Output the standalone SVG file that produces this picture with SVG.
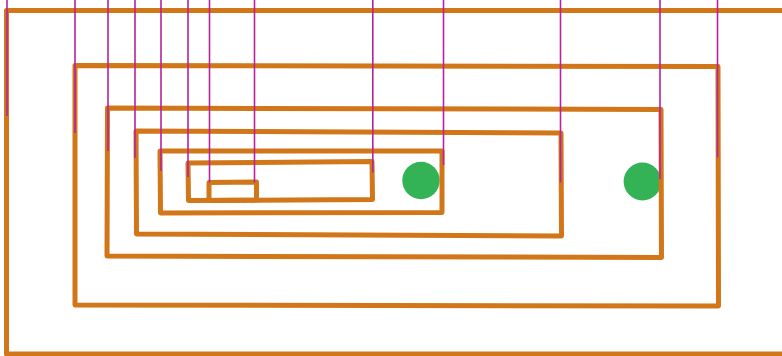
<svg xmlns="http://www.w3.org/2000/svg" width="782" height="356" viewBox="0 0 782 356">
<style>
.box{fill:none;stroke:#D2761A;stroke-width:5;stroke-linejoin:round}
.dot{fill:#34B356}
.wire{stroke:#B8229A;stroke-width:1.6;fill:none}
</style>
<rect width="782" height="356" fill="#ffffff"/>
<g id="circle1"><circle class="dot" cx="421" cy="180.5" r="18.7"/></g>
<g id="circle2"><circle class="dot" cx="642.5" cy="181.5" r="18.9"/></g>
<g id="box1"><path class="box" d="M6.5,354 L6.5,10.5 L790,10.5 L790,354 Z"/></g>
<g id="box2"><path class="box" d="M75,65.5 L718,66.5 L718.5,306 L75,305 Z"/></g>
<g id="box3"><path class="box" d="M107.5,108 L661,109.5 L661.5,257.5 L107,256 Z"/></g>
<g id="box4"><path class="box" d="M136,131 L561,133 L561.5,236 L136.5,234 Z"/></g>
<g id="box5"><path class="box" d="M160,151 L442,151 L442,212.5 L160.5,213 Z"/></g>
<g id="box6"><path class="box" d="M188,163 L372,161.5 L372.5,199.5 L188.5,200.5 Z"/></g>
<g id="box7"><path class="box" d="M209,182.5 L256.5,182 L256.5,200 L209,200.5 Z"/></g>
<g id="connectors">
<line class="wire" x1="7" y1="0" x2="7" y2="116"/>
<line class="wire" x1="75" y1="0" x2="75" y2="133"/>
<line class="wire" x1="108" y1="0" x2="108" y2="151"/>
<line class="wire" x1="135" y1="0" x2="135" y2="158"/>
<line class="wire" x1="161" y1="0" x2="161" y2="171"/>
<line class="wire" x1="188" y1="0" x2="188" y2="177"/>
<line class="wire" x1="209.5" y1="0" x2="209.5" y2="182.5"/>
<line class="wire" x1="254.5" y1="0" x2="254.5" y2="182.5"/>
<line class="wire" x1="372.8" y1="0" x2="372.8" y2="172.5"/>
<line class="wire" x1="443.5" y1="0" x2="443.5" y2="165"/>
<line class="wire" x1="560.5" y1="0" x2="560.5" y2="182.5"/>
<line class="wire" x1="660" y1="0" x2="660" y2="179"/>
<line class="wire" x1="717.5" y1="0" x2="717.5" y2="157.5"/>
</g>
</svg>
